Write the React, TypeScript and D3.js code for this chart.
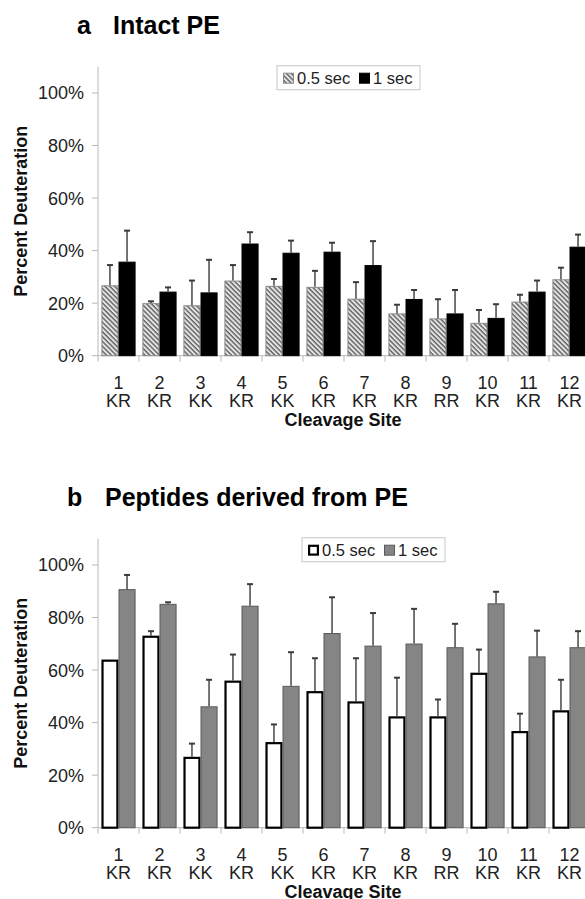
import * as d3 from 'd3'

const sites = ['1', '2', '3', '4', '5', '6', '7', '8', '9', '10', '11', '12']
const residues = ['KR', 'KR', 'KK', 'KR', 'KK', 'KR', 'KR', 'KR', 'RR', 'KR', 'KR', 'KR']
const seriesNames = ['0.5 sec', '1 sec']
const yTicks = [0, 0.2, 0.4, 0.6, 0.8, 1.0]

// a: intact PE
const intactHalf = [0.268, 0.200, 0.192, 0.286, 0.266, 0.262, 0.217, 0.161, 0.142, 0.125, 0.206, 0.291]
const intactHalfErr = [0.077, 0.007, 0.094, 0.059, 0.026, 0.061, 0.063, 0.033, 0.073, 0.049, 0.026, 0.044]
const intactOne = [0.358, 0.244, 0.241, 0.427, 0.392, 0.396, 0.345, 0.216, 0.161, 0.144, 0.244, 0.415]
const intactOneErr = [0.118, 0.016, 0.124, 0.043, 0.046, 0.034, 0.091, 0.034, 0.089, 0.052, 0.042, 0.046]

// b: peptides derived from PE
const peptHalf = [0.640, 0.731, 0.270, 0.560, 0.326, 0.520, 0.481, 0.424, 0.424, 0.590, 0.368, 0.447]
const peptHalfErr = [0, 0.017, 0.050, 0.099, 0.067, 0.125, 0.164, 0.147, 0.064, 0.088, 0.066, 0.116]
const peptOne = [0.908, 0.852, 0.462, 0.845, 0.540, 0.741, 0.693, 0.701, 0.687, 0.854, 0.652, 0.687]
const peptOneErr = [0.054, 0.006, 0.101, 0.082, 0.128, 0.136, 0.124, 0.132, 0.089, 0.044, 0.098, 0.061]

const W = 585, H = 899
const font = 'Liberation Sans, Arial, Helvetica, sans-serif'
const axisColor = '#b8b8b8'
const left = 98, right = 590

const x0 = d3.scaleBand().domain(sites).range([left, right]).paddingInner(0).paddingOuter(0)
const x1 = d3.scaleBand().domain(seriesNames).range([0, x0.bandwidth()]).paddingInner(0).paddingOuter(0.2)
const pct = d3.format('.0%')

type Style = { fill: string, stroke: string, sw: number }

const Panel = ({ zero, letter, letterX, title, titleX, values, errs, styles, legendX }: {
  zero: number, letter: string, letterX: number, title: string, titleX: number,
  values: number[][], errs: number[][], styles: Style[], legendX: number
}) => {
  const y = d3.scaleLinear().domain([0, 1.1]).range([zero, zero - 289])
  const legendY = zero - 290
  return (
    <g fontFamily={font}>
      <text x={letterX} y={zero - 322} fontSize={25} fontWeight="bold">{letter}</text>
      <text x={titleX} y={zero - 322} fontSize={25} fontWeight="bold">{title}</text>

      {/* axes */}
      <line x1={left} x2={left} y1={y(1.1)} y2={y(0)} stroke={axisColor} />
      <line x1={left} x2={right} y1={y(0)} y2={y(0)} stroke={axisColor} />
      {yTicks.map(t => (
        <g key={t}>
          <line x1={left - 6} x2={left} y1={y(t)} y2={y(t)} stroke={axisColor} />
          <text x={84} y={y(t)} dy="0.36em" textAnchor="end" fontSize={18} fill="#222">{pct(t)}</text>
        </g>
      ))}
      {sites.map(s => (
        <line key={s} x1={x0(s)!} x2={x0(s)!} y1={y(0)} y2={y(0) + 6} stroke={axisColor} />
      ))}
      <line x1={right} x2={right} y1={y(0)} y2={y(0) + 6} stroke={axisColor} />
      {sites.map((s, i) => (
        <g key={s} fontSize={18} fill="#222" textAnchor="middle">
          <text x={x0(s)! + x0.bandwidth() / 2} y={zero + 33.5}>{s}</text>
          <text x={x0(s)! + x0.bandwidth() / 2} y={zero + 51}>{residues[i]}</text>
        </g>
      ))}
      <text x={(left + right) / 2 - 1} y={zero + 70.5} textAnchor="middle" fontSize={18} fontWeight="bold" fill="#111">Cleavage Site</text>
      <text transform={`translate(27,${(y(0) + y(1.1)) / 2}) rotate(-90)`} textAnchor="middle" fontSize={18} fontWeight="bold" fill="#111">Percent Deuteration</text>

      {/* bars */}
      {seriesNames.map((name, k) => (
        <g key={name}>
          {sites.map((s, i) => {
            const v = values[k][i]
            const bx = x0(s)! + x1(name)!
            const bw = x1.bandwidth()
            const sw = styles[k].sw
            return (
              <rect key={s} x={bx + sw / 2} y={y(v) + sw / 2} width={bw - sw} height={y(0) - y(v) - sw / 2}
                fill={styles[k].fill} stroke={styles[k].stroke} strokeWidth={sw} />
            )
          })}
        </g>
      ))}

      {/* error bars */}
      {seriesNames.map((name, k) => (
        <g key={name} stroke="#3a3a3a">
          {sites.map((s, i) => {
            const e = errs[k][i]
            if (!e) return null
            const cx = x0(s)! + x1(name)! + x1.bandwidth() / 2
            const v = values[k][i]
            return (
              <g key={s}>
                <line x1={cx} x2={cx} y1={y(v)} y2={y(v + e)} strokeWidth={1.4} />
                <line x1={cx - 3} x2={cx + 3} y1={y(v + e)} y2={y(v + e)} strokeWidth={2} />
              </g>
            )
          })}
        </g>
      ))}

      {/* legend */}
      <rect x={legendX} y={legendY} width={143} height={24} fill="white" stroke="#c8c8c8" />
      {seriesNames.map((name, k) => {
        const lx = legendX + (k === 0 ? 6 : 82)
        const sw = styles[k].sw
        return (
          <g key={name}>
            <rect x={lx + sw / 2} y={legendY + 7 + sw / 2} width={11 - sw} height={11 - sw}
              fill={styles[k].fill} stroke={styles[k].stroke} strokeWidth={sw} />
            <text x={lx + 14} y={legendY + 18} fontSize={16.5} fill="#222">{name}</text>
          </g>
        )
      })}
    </g>
  )
}

export default function App() {
  const intactStyles: Style[] = [
    { fill: 'url(#hatch)', stroke: '#8a8a8a', sw: 1 },
    { fill: '#000', stroke: '#000', sw: 1 },
  ]
  const peptStyles: Style[] = [
    { fill: '#fff', stroke: '#000', sw: 2.2 },
    { fill: '#858585', stroke: '#5a5a5a', sw: 1 },
  ]
  return (
    <svg width={W} height={H} style={{ position: 'absolute', left: 0, top: 0, background: '#fff' }}>
      <defs>
        <pattern id="hatch" patternUnits="userSpaceOnUse" width={3.4} height={3.4} patternTransform="rotate(-45)">
          <rect width={3.4} height={3.4} fill="#e4e4e4" />
          <line x1={1} x2={1} y1={0} y2={3.4} stroke="#555" strokeWidth={1.3} />
        </pattern>
      </defs>
      <rect width={W} height={H} fill="#fff" />
      <Panel zero={355.7} letter="a" letterX={77} title="Intact PE" titleX={113}
        values={[intactHalf, intactOne]} errs={[intactHalfErr, intactOneErr]} styles={intactStyles} legendX={277} />
      <Panel zero={827.7} letter="b" letterX={67} title="Peptides derived from PE" titleX={105}
        values={[peptHalf, peptOne]} errs={[peptHalfErr, peptOneErr]} styles={peptStyles} legendX={302} />
    </svg>
  )
}
